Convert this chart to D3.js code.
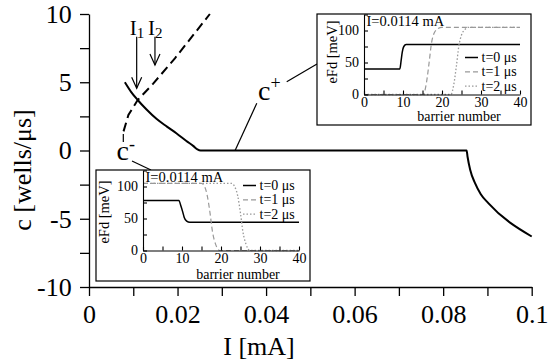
<!DOCTYPE html>
<html>
<head>
<meta charset="utf-8">
<script src="https://cdn.jsdelivr.net/npm/d3@7"></script>
<style>
body { margin: 0; background: #fff; }
svg { display: block; }
svg text { font-family: 'Liberation Serif', 'Times New Roman', serif !important; }
</style>
</head>
<body>
<svg id="canvas"></svg>
<script>
let width = 550;
let height = 362;

// main axes
const xTickValues = [0, 0.01, 0.02, 0.03, 0.04, 0.05, 0.06, 0.07, 0.08, 0.09, 0.1];
const xTickLabels = ['0', '', '0.02', '', '0.04', '', '0.06', '', '0.08', '', '0.1'];
const yTickValues = [-10, -7.5, -5, -2.5, 0, 2.5, 5, 7.5, 10];
const yTickLabels = ['-10', '', '-5', '', '0', '', '5', '', '10'];

// front velocity vs current, solid branch
const frontI = [0.0081, 0.0095, 0.011, 0.013, 0.0153, 0.0176, 0.0198, 0.022, 0.0236, 0.0245, 0.0252,
    0.0853, 0.0855, 0.0861, 0.0872, 0.0885, 0.0902, 0.1];
const frontC = [5.0, 4.3, 3.7, 3.0, 2.3, 1.75, 1.25, 0.7, 0.32, 0.08, 0,
    0, -0.44, -1.41, -2.39, -3.2, -3.85, -6.3];

// dashed branch
const branchI = [0.0078, 0.0089, 0.011, 0.0145, 0.0194, 0.0273];
const branchC = [1.4, 2.6, 3.7, 4.9, 6.75, 10];

// marked currents I1, I2
const markI = [0.01077, 0.0149];
const markTop = [8.34, 8.34];
const markBottom = [4.56, 6.26];
const markNames = ['1', '2'];

// insets: eFd vs barrier number
const insetXTicks = [0, 5, 10, 15, 20, 25, 30, 35, 40];
const insetXLabels = ['0', '', '10', '', '20', '', '30', '', '40'];
const insetYTicks = [0, 25, 50, 75, 100, 125];
const insetYLabels = ['0', '', '50', '', '100', ''];
const legendNames = ['t=0 \u03bcs', 't=1 \u03bcs', 't=2 \u03bcs'];

const plusN0 = [0, 9.2, 9.5, 9.8, 10.2, 10.8, 40];
const plusF0 = [40, 40, 52, 66, 75, 78, 78];
const plusN1 = [0, 15.2, 16, 16.7, 17.3, 18, 19, 20, 40];
const plusF1 = [0, 0, 18, 50, 80, 96, 103, 105, 105];
const plusN2 = [0, 22.3, 23, 23.7, 24.3, 25, 25.8, 26.8, 40];
const plusF2 = [0, 0, 15, 45, 75, 93, 101, 105, 105];

const minusN0 = [0, 9.2, 9.7, 10.2, 10.6, 11.2, 12, 40];
const minusF0 = [78, 78, 70, 60, 51, 46, 44, 44];
const minusN1 = [0, 15, 15.8, 16.5, 17.2, 17.8, 18.6, 19.7, 40];
const minusF1 = [105, 105, 100, 85, 58, 30, 10, 0, 0];
const minusN2 = [0, 22.7, 23.5, 24.3, 25, 25.6, 26.4, 27.4, 40];
const minusF2 = [105, 105, 100, 85, 58, 30, 10, 0, 0];

let canvas = d3.select('#canvas').attr('width', width).attr('height', height);

let xScale = d3.scaleLinear().domain([0, 0.1]).range([89, 531.7]);
let yScale = d3.scaleLinear().domain([-10, 10]).range([287, 14]);

let zip = (a, b) => a.map((v, i) => [v, b[i]]);

let drawAxes = () => {
    let xAxis = d3.axisBottom(xScale)
        .tickValues(xTickValues)
        .tickFormat((d, i) => xTickLabels[i])
        .tickSize(9).tickSizeOuter(0).tickPadding(8.5);
    let yAxis = d3.axisLeft(yScale)
        .tickValues(yTickValues)
        .tickFormat((d, i) => yTickLabels[i])
        .tickSize(9).tickSizeOuter(0).tickPadding(8.3);

    let gx = canvas.append('g').attr('transform', `translate(0, ${yScale(-10)})`).call(xAxis);
    let gy = canvas.append('g').attr('transform', `translate(${xScale(0)}, 0)`).call(yAxis);

    [gx, gy].forEach((g) => {
        g.selectAll('path, line').attr('stroke', '#000').attr('stroke-width', 1.3);
        g.selectAll('text').attr('font-size', 26).attr('fill', '#000');
    });

    canvas.append('text')
        .attr('x', 259).attr('y', 355)
        .attr('text-anchor', 'middle')
        .attr('font-size', 26)
        .text('I [mA]');

    canvas.append('text')
        .attr('transform', 'translate(31, 170) rotate(-90)')
        .attr('text-anchor', 'middle')
        .attr('font-size', 26)
        .text('c [wells/\u03bcs]');
};

let drawCurves = () => {
    let line = d3.line()
        .x((d) => xScale(d[0]))
        .y((d) => yScale(d[1]))
        .curve(d3.curveMonotoneX);

    canvas.append('path')
        .datum(zip(frontI, frontC))
        .attr('d', line)
        .attr('fill', 'none')
        .attr('stroke', '#000')
        .attr('stroke-width', 2);

    canvas.append('path')
        .datum(zip(branchI, branchC))
        .attr('d', line.curve(d3.curveLinear))
        .attr('fill', 'none')
        .attr('stroke', '#000')
        .attr('stroke-width', 2)
        .attr('stroke-dasharray', '9,5');
};

let drawNotes = () => {
    let s = (p) => [xScale(p[0]), yScale(p[1])];
    let seg = (a, b) => {
        let p = s(a), q = s(b);
        canvas.append('line')
            .attr('x1', p[0]).attr('y1', p[1])
            .attr('x2', q[0]).attr('y2', q[1])
            .attr('stroke', '#000').attr('stroke-width', 1.2);
    };

    // arrows for I1, I2
    markI.forEach((I, i) => {
        let top = s([I, markTop[i]]);
        let bot = s([I, markBottom[i]]);
        canvas.append('line')
            .attr('x1', top[0]).attr('y1', top[1])
            .attr('x2', bot[0]).attr('y2', bot[1])
            .attr('stroke', '#000').attr('stroke-width', 1.2);
        canvas.append('path')
            .attr('d', `M${bot[0] - 5},${bot[1] - 11}L${bot[0]},${bot[1]}L${bot[0] + 5},${bot[1] - 11}`)
            .attr('fill', 'none').attr('stroke', '#000').attr('stroke-width', 1.2);
        let t = canvas.append('text')
            .attr('x', top[0] - 7).attr('y', top[1] - 2)
            .attr('font-size', 21);
        t.append('tspan').text('I');
        t.append('tspan').attr('font-size', 15).attr('dy', 3).text(markNames[i]);
    });

    // c+ label
    let cp = canvas.append('text').attr('x', 258).attr('y', 100).attr('font-size', 28);
    cp.append('tspan').text('c');
    cp.append('tspan').attr('font-size', 18).attr('dy', -11).text('+');
    seg([0.033, 0], [0.0379, 3.46]);
    seg([0.04466, 5.04], [0.0515, 6.34]);

    // c- label
    let cm = canvas.append('text').attr('x', 116.5).attr('y', 160).attr('font-size', 28);
    cm.append('tspan').text('c');
    cm.append('tspan').attr('font-size', 18).attr('dy', -10).text('-');
    seg([0.00775, 1.21], [0.00775, 0.62]);
    seg([0.00971, -0.77], [0.014, -1.43]);
};

const lineStyles = [
    { color: '#000', dash: null, width: 1.5 },
    { color: '#999', dash: '5,3', width: 1.2 },
    { color: '#999', dash: '1.5,2', width: 1.3 },
];

let drawInset = (cfg) => {
    let g = canvas.append('g').attr('transform', `translate(${cfg.x}, ${cfg.y})`);
    g.append('rect')
        .attr('width', 214).attr('height', 111)
        .attr('fill', '#fff').attr('stroke', '#000').attr('stroke-width', 1.2);

    let ix = d3.scaleLinear().domain([0, 40]).range([47, 203]);
    let iy = d3.scaleLinear().domain([0, 125]).range([80.5, 0.5]);
    let line = d3.line().x((d) => ix(d[0])).y((d) => iy(d[1])).curve(d3.curveMonotoneX);

    cfg.series.forEach((d, i) => {
        let st = lineStyles[i];
        g.append('path')
            .datum(d)
            .attr('d', line)
            .attr('fill', 'none')
            .attr('stroke', st.color)
            .attr('stroke-width', st.width)
            .attr('stroke-dasharray', st.dash);
    });

    let ax = d3.axisBottom(ix).tickValues(insetXTicks)
        .tickFormat((d, i) => insetXLabels[i])
        .tickSize(-4).tickSizeOuter(0).tickPadding(2.5);
    let ay = d3.axisLeft(iy).tickValues(insetYTicks)
        .tickFormat((d, i) => insetYLabels[i])
        .tickSize(-4).tickSizeOuter(0).tickPadding(5);
    let gx = g.append('g').attr('transform', `translate(0, ${iy(0)})`).call(ax);
    let gy = g.append('g').attr('transform', `translate(${ix(0)}, 0)`).call(ay);
    [gx, gy].forEach((a) => {
        a.selectAll('path, line').attr('stroke', '#000').attr('stroke-width', 1.1);
        a.selectAll('text').attr('font-size', 14).attr('fill', '#000');
    });

    g.append('text').attr('x', 49.5).attr('y', 11.5).attr('font-size', 14.5).text('I=0.0114 mA');
    g.append('text')
        .attr('x', 142).attr('y', cfg.xLabelY)
        .attr('text-anchor', 'middle').attr('font-size', 14)
        .text('barrier number');
    g.append('text')
        .attr('transform', `translate(${cfg.yLabelX}, ${cfg.yLabelY}) rotate(-90)`)
        .attr('text-anchor', 'middle').attr('font-size', 14.5)
        .text('eFd [meV]');

    legendNames.forEach((name, i) => {
        let st = lineStyles[i];
        let y = cfg.legendY + i * 14.3;
        g.append('line')
            .attr('x1', cfg.legendX).attr('x2', cfg.legendX + 13)
            .attr('y1', y - 4.5).attr('y2', y - 4.5)
            .attr('stroke', st.color).attr('stroke-width', st.width)
            .attr('stroke-dasharray', st.dash);
        g.append('text')
            .attr('x', cfg.legendX + 16.5).attr('y', y)
            .attr('font-size', 14)
            .text(name);
    });
};

drawAxes();
drawCurves();
drawNotes();

drawInset({
    x: 317, y: 14,
    series: [zip(plusN0, plusF0), zip(plusN1, plusF1), zip(plusN2, plusF2)],
    legendX: 148, legendY: 48,
    xLabelY: 106.5, yLabelX: 19.5, yLabelY: 38,
});

drawInset({
    x: 96, y: 170,
    series: [zip(minusN0, minusF0), zip(minusN1, minusF1), zip(minusN2, minusF2)],
    legendX: 147, legendY: 20,
    xLabelY: 108.5, yLabelX: 12.5, yLabelY: 42,
});
</script>
</body>
</html>
